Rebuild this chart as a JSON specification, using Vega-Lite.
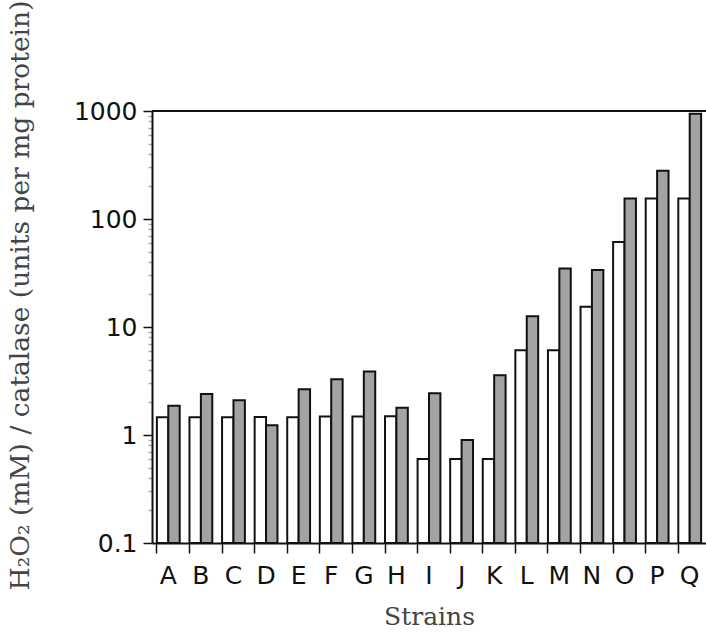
{
  "$schema": "https://vega.github.io/schema/vega-lite/v6.json",
  "width": 554,
  "height": 432,
  "autosize": {"type": "none"},
  "padding": {"left": 152, "top": 111, "right": 0, "bottom": 90},
  "background": "white",
  "config": {
    "view": {"stroke": null},
    "axis": {"grid": false, "domainColor": "#111", "domainWidth": 2, "tickColor": "#111", "tickWidth": 1.5, "labelColor": "#111", "titleColor": "#444", "titleFontWeight": "normal"}
  },
  "data": {
    "values": [
      {"strain": "A", "series": "a", "value": 1.46}, {"strain": "A", "series": "b", "value": 1.87},
      {"strain": "B", "series": "a", "value": 1.46}, {"strain": "B", "series": "b", "value": 2.4},
      {"strain": "C", "series": "a", "value": 1.46}, {"strain": "C", "series": "b", "value": 2.1},
      {"strain": "D", "series": "a", "value": 1.47}, {"strain": "D", "series": "b", "value": 1.23},
      {"strain": "E", "series": "a", "value": 1.46}, {"strain": "E", "series": "b", "value": 2.65},
      {"strain": "F", "series": "a", "value": 1.48}, {"strain": "F", "series": "b", "value": 3.28},
      {"strain": "G", "series": "a", "value": 1.48}, {"strain": "G", "series": "b", "value": 3.87},
      {"strain": "H", "series": "a", "value": 1.49}, {"strain": "H", "series": "b", "value": 1.79},
      {"strain": "I", "series": "a", "value": 0.6}, {"strain": "I", "series": "b", "value": 2.43},
      {"strain": "J", "series": "a", "value": 0.6}, {"strain": "J", "series": "b", "value": 0.9},
      {"strain": "K", "series": "a", "value": 0.6}, {"strain": "K", "series": "b", "value": 3.57},
      {"strain": "L", "series": "a", "value": 6.1}, {"strain": "L", "series": "b", "value": 12.6},
      {"strain": "M", "series": "a", "value": 6.1}, {"strain": "M", "series": "b", "value": 34.8},
      {"strain": "N", "series": "a", "value": 15.4}, {"strain": "N", "series": "b", "value": 33.7},
      {"strain": "O", "series": "a", "value": 61.4}, {"strain": "O", "series": "b", "value": 155},
      {"strain": "P", "series": "a", "value": 155}, {"strain": "P", "series": "b", "value": 279},
      {"strain": "Q", "series": "a", "value": 155}, {"strain": "Q", "series": "b", "value": 942}
    ]
  },
  "layer": [
    {
      "mark": {"type": "bar", "stroke": "#111", "strokeWidth": 2},
      "encoding": {
        "x": {
          "field": "strain", "type": "nominal",
          "scale": {"paddingInner": 0.3, "paddingOuter": 0.15},
          "axis": {
            "title": "Strains", "labelAngle": 0, "bandPosition": 0,
            "tickSize": 10, "labelFont": "DejaVu Sans", "labelFontSize": 25, "labelPadding": 10,
            "titleFont": "DejaVu Serif", "titleFontSize": 25, "titlePadding": 16
          }
        },
        "xOffset": {"field": "series", "type": "nominal", "scale": {"paddingInner": 0, "paddingOuter": 0}},
        "y": {
          "field": "value", "type": "quantitative",
          "scale": {"type": "log", "domain": [0.1, 1000], "nice": false},
          "axis": {
            "title": "H₂O₂ (mM) / catalase (units per mg protein)",
            "values": [0.1, 0.2, 0.3, 0.4, 0.5, 0.6, 0.7, 0.8, 0.9, 1, 2, 3, 4, 5, 6, 7, 8, 9, 10, 20, 30, 40, 50, 60, 70, 80, 90, 100, 200, 300, 400, 500, 600, 700, 800, 900, 1000],
            "format": "~g",
            "labelExpr": "(datum.value == 0.1 || datum.value == 1 || datum.value == 10 || datum.value == 100 || datum.value == 1000) ? datum.label : ''",
            "labelOverlap": false, "labelFlush": false, "labelBound": false,
            "tickSize": {"condition": {"test": "datum.value == 0.1 || datum.value == 1 || datum.value == 10 || datum.value == 100 || datum.value == 1000", "value": 9}, "value": 4},
            "tickColor": {"condition": {"test": "datum.value == 0.1 || datum.value == 1 || datum.value == 10 || datum.value == 100 || datum.value == 1000", "value": "#111"}, "value": "#aaa"},
            "labelFont": "DejaVu Sans", "labelFontSize": 25, "labelPadding": 6,
            "titleFont": "DejaVu Serif", "titleFontSize": 26.5,
            "titleAngle": -90, "titleAlign": "center", "titleBaseline": "middle",
            "titleX": -132, "titleY": 184
          }
        },
        "y2": {"datum": 0.1},
        "fill": {
          "field": "series", "type": "nominal",
          "scale": {"domain": ["a", "b"], "range": ["#ffffff", "#a3a3a3"]},
          "legend": null
        }
      }
    },
    {
      "mark": {"type": "rule", "color": "#111", "strokeWidth": 2},
      "encoding": {"y": {"datum": 1000, "type": "quantitative"}}
    }
  ]
}
